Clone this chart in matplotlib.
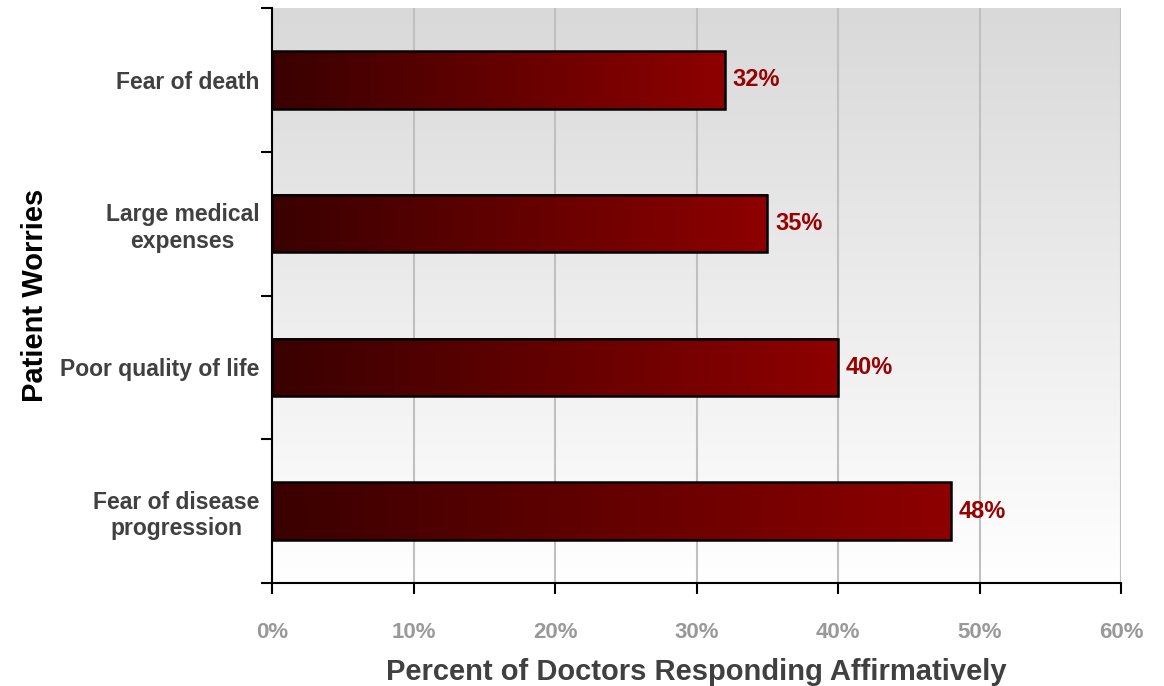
import numpy as np
import matplotlib
matplotlib.use("Agg")
import matplotlib.pyplot as plt
from matplotlib.colors import LinearSegmentedColormap

categories = ["Fear of death", "Large medical\nexpenses", "Poor quality of life", "Fear of disease\nprogression"]
values = [32, 35, 40, 48]
value_labels = ["32%", "35%", "40%", "48%"]
xticks = [0, 10, 20, 30, 40, 50, 60]
xtick_labels = ["0%", "10%", "20%", "30%", "40%", "50%", "60%"]

plt.rcParams['font.family'] = ['Liberation Sans', 'DejaVu Sans']

fig = plt.figure(figsize=(11.64, 6.86), dpi=100)
ax = fig.add_axes([272/1164, 1-583/686, (1121-272)/1164, (583-8)/686])

# background gradient
bg = np.linspace(0, 1, 256).reshape(-1, 1)
bg_cmap = LinearSegmentedColormap.from_list("bg", ["#d9d9d9", "#ffffff"])
ax.imshow(bg, cmap=bg_cmap, extent=[0, 1, 0, 1], transform=ax.transAxes,
          aspect='auto', zorder=0, origin='upper')

bar_cmap = LinearSegmentedColormap.from_list("bar", ["#3a0000", "#8e0000"])
grad = np.linspace(0, 1, 256).reshape(1, -1)
h = 0.4
for i, v in enumerate(values):
    ax.imshow(grad, cmap=bar_cmap, extent=[0, v, i + h/2, i - h/2],
              aspect='auto', zorder=2, interpolation='bilinear')
    ax.add_patch(plt.Rectangle((0, i - h/2), v, h, fill=False,
                               edgecolor='black', lw=1.8, zorder=3))
    ax.text(v + 0.55, i, value_labels[i], va='center', ha='left',
            color='#990000', fontsize=17, fontweight='bold', zorder=4)

ax.set_xlim(0, 60)
ax.set_ylim(3.5, -0.5)

ax.set_xticks(xticks)
ax.set_xticklabels(xtick_labels, fontsize=16, fontweight='bold', color='#999999')
ax.tick_params(axis='x', direction='out', length=8, width=1.5, pad=20, color='black')

ax.set_yticks(range(len(categories)))
ax.set_yticklabels(categories, fontsize=16.5, fontweight='bold', color='#404040')
for lab in ax.get_yticklabels():
    lab.set_multialignment('center')
ax.tick_params(axis='y', which='major', length=0, pad=9)
ax.set_yticks(np.arange(-0.5, len(categories), 1.0), minor=True)
ax.tick_params(axis='y', which='minor', direction='out', length=8, width=1.5, color='black')

ax.grid(axis='x', color='#c0c0c0', lw=1.5, zorder=1)
ax.set_axisbelow(True)

for s in ['top', 'right']:
    ax.spines[s].set_visible(False)
for s in ['left', 'bottom']:
    ax.spines[s].set_linewidth(1.5)
    ax.spines[s].set_zorder(5)

ax.set_xlabel("Percent of Doctors Responding Affirmatively", fontsize=21,
              fontweight='bold', color='#404040', labelpad=11)
ax.set_ylabel("Patient Worries", fontsize=21, fontweight='bold', color='black', labelpad=8)

fig.savefig("out.png", dpi=100)
